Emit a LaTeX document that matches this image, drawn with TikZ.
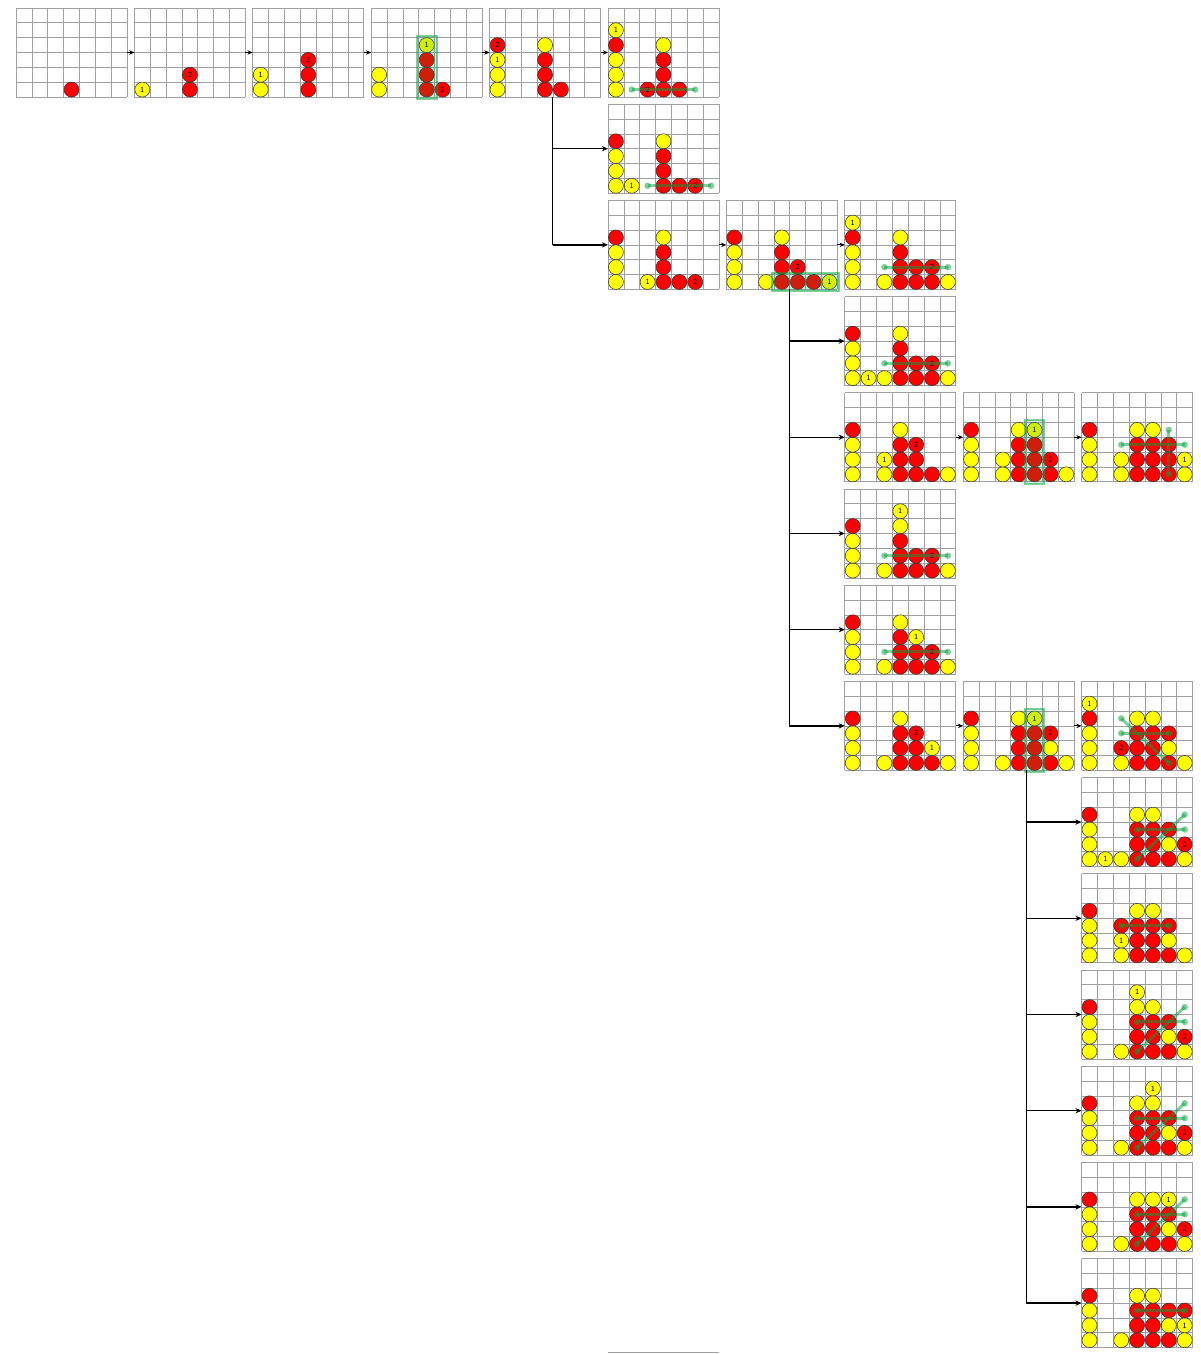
\documentclass[tikz,border=0pt]{standalone}
\usepackage{tikz}
\usetikzlibrary{arrows.meta,calc}
\definecolor{cfred}{RGB}{255,0,0}
\definecolor{cfyellow}{RGB}{255,255,0}
\definecolor{cfgreen}{RGB}{0,163,61}
\definecolor{gridgray}{RGB}{160,160,160}

\tikzset{
  board/.style={minimum width=2.22cm, minimum height=1.78cm, inner sep=0pt, outer sep=0pt, anchor=south west},
  gridline/.style={gridgray, line width=0.4pt},
  disc/.style={circle, minimum size=0.3cm, inner sep=0pt, draw=black!80, line width=0.3pt,
    font=\sffamily\fontsize{4.5}{5}\selectfont},
  R/.style={disc, fill=cfred},
  Y/.style={disc, fill=cfyellow},
  threat/.style={cfgreen, line width=0.06cm, draw opacity=0.5},
  threatdot/.style={cfgreen, fill opacity=0.5},
  hilite/.style={draw=cfgreen, line width=0.04cm, draw opacity=0.5, fill=cfgreen, fill opacity=0.18},
  movearrow/.style={line width=0.6pt, -{Stealth[length=3pt,width=2.5pt]}},
  tree/.style={line width=0.75pt},
  treearrow/.style={tree, -{Stealth[length=3.5pt,width=3pt]}}
}

% board: name, column, row, discs (c/r/colour/label), marks
\newcommand{\cfboard}[5]{%
  \node[board] (#1) at ({16+118.4*#2},{1257-96.2*#3}) {};
  \begin{scope}[shift={(#1.south west)}, x=0.317143cm, y=0.296667cm]
    \foreach \i in {0,...,7} \draw[gridline] (\i,0) -- (\i,6);
    \foreach \j in {0,...,6} \draw[gridline] (0,\j) -- (7,\j);
    \foreach \c/\r/\f/\t in {#4}
      \node[\f] (#1-\c-\r) at (\c-.5,\r-.5) {\t};
    #5
  \end{scope}}
% four in a row: from cell to cell
\newcommand{\cfthreat}[4]{%
  \draw[threat] (#1-.5,#2-.5) -- (#3-.5,#4-.5);
  \fill[threatdot] (#1-.5,#2-.5) circle[radius=0.065cm] (#3-.5,#4-.5) circle[radius=0.065cm];}
% highlighted cells
\newcommand{\cfmark}[4]{%
  \draw[hilite] ([xshift=-0.04cm,yshift=-0.04cm]#1-1,#2-1) rectangle ([xshift=0.04cm,yshift=0.04cm]#3,#4);}

\begin{document}
\begin{tikzpicture}[x=0.02cm, y=0.02cm]
  \path[use as bounding box, fill=white] (0,0) rectangle (1200,1354);

  % Main line
  \cfboard{b00}{0}{0}{4/1/R/}{}
  \cfboard{b10}{1}{0}{1/1/Y/1, 4/1/R/, 4/2/R/2}{}
  \cfboard{b20}{2}{0}{1/1/Y/, 1/2/Y/1, 4/1/R/, 4/2/R/, 4/3/R/2}{}
  \cfboard{b30}{3}{0}{1/1/Y/, 1/2/Y/, 4/1/R/, 4/2/R/, 4/3/R/, 4/4/Y/1, 5/1/R/2}{\cfmark{4}{1}{4}{4}}
  \cfboard{b40}{4}{0}{1/1/Y/, 1/2/Y/, 1/3/Y/1, 1/4/R/2, 4/1/R/, 4/2/R/, 4/3/R/, 4/4/Y/, 5/1/R/}{}
  \cfboard{b50}{5}{0}{1/1/Y/, 1/2/Y/, 1/3/Y/, 1/4/R/, 1/5/Y/1, 3/1/R/2, 4/1/R/, 4/2/R/, 4/3/R/,
    4/4/Y/, 5/1/R/}{\cfthreat{2}{1}{6}{1}}

  % Replies to b40
  \cfboard{b51}{5}{1}{1/1/Y/, 1/2/Y/, 1/3/Y/, 1/4/R/, 2/1/Y/1, 4/1/R/, 4/2/R/, 4/3/R/, 4/4/Y/,
    5/1/R/, 6/1/R/2}{\cfthreat{3}{1}{7}{1}}
  \cfboard{b52}{5}{2}{1/1/Y/, 1/2/Y/, 1/3/Y/, 1/4/R/, 3/1/Y/1, 4/1/R/, 4/2/R/, 4/3/R/, 4/4/Y/,
    5/1/R/, 6/1/R/2}{}
  \cfboard{b62}{6}{2}{1/1/Y/, 1/2/Y/, 1/3/Y/, 1/4/R/, 3/1/Y/, 4/1/R/, 4/2/R/, 4/3/R/, 4/4/Y/,
    5/1/R/, 5/2/R/2, 6/1/R/, 7/1/Y/1}{\cfmark{4}{1}{7}{1}}
  \cfboard{b72}{7}{2}{1/1/Y/, 1/2/Y/, 1/3/Y/, 1/4/R/, 1/5/Y/1, 3/1/Y/, 4/1/R/, 4/2/R/, 4/3/R/,
    4/4/Y/, 5/1/R/, 5/2/R/, 6/1/R/, 6/2/R/2, 7/1/Y/}{\cfthreat{3}{2}{7}{2}}

  % Replies to b62
  \cfboard{b73}{7}{3}{1/1/Y/, 1/2/Y/, 1/3/Y/, 1/4/R/, 2/1/Y/1, 3/1/Y/, 4/1/R/, 4/2/R/, 4/3/R/,
    4/4/Y/, 5/1/R/, 5/2/R/, 6/1/R/, 6/2/R/2, 7/1/Y/}{\cfthreat{3}{2}{7}{2}}
  \cfboard{b74}{7}{4}{1/1/Y/, 1/2/Y/, 1/3/Y/, 1/4/R/, 3/1/Y/, 3/2/Y/1, 4/1/R/, 4/2/R/, 4/3/R/,
    4/4/Y/, 5/1/R/, 5/2/R/, 5/3/R/2, 6/1/R/, 7/1/Y/}{}
  \cfboard{b84}{8}{4}{1/1/Y/, 1/2/Y/, 1/3/Y/, 1/4/R/, 3/1/Y/, 3/2/Y/, 4/1/R/, 4/2/R/, 4/3/R/,
    4/4/Y/, 5/1/R/, 5/2/R/, 5/3/R/, 5/4/Y/1, 6/1/R/, 6/2/R/2, 7/1/Y/}{\cfmark{5}{1}{5}{4}}
  \cfboard{b94}{9}{4}{1/1/Y/, 1/2/Y/, 1/3/Y/, 1/4/R/, 3/1/Y/, 3/2/Y/, 4/1/R/, 4/2/R/, 4/3/R/,
    4/4/Y/, 5/1/R/, 5/2/R/, 5/3/R/, 5/4/Y/, 6/1/R/, 6/2/R/, 6/3/R/, 7/1/Y/, 7/2/Y/1}
    {\cfthreat{3}{3}{7}{3} \cfthreat{6}{1}{6}{4}}
  \cfboard{b75}{7}{5}{1/1/Y/, 1/2/Y/, 1/3/Y/, 1/4/R/, 3/1/Y/, 4/1/R/, 4/2/R/, 4/3/R/, 4/4/Y/,
    4/5/Y/1, 5/1/R/, 5/2/R/, 6/1/R/, 6/2/R/2, 7/1/Y/}{\cfthreat{3}{2}{7}{2}}
  \cfboard{b76}{7}{6}{1/1/Y/, 1/2/Y/, 1/3/Y/, 1/4/R/, 3/1/Y/, 4/1/R/, 4/2/R/, 4/3/R/, 4/4/Y/,
    5/1/R/, 5/2/R/, 5/3/Y/1, 6/1/R/, 6/2/R/2, 7/1/Y/}{\cfthreat{3}{2}{7}{2}}
  \cfboard{b77}{7}{7}{1/1/Y/, 1/2/Y/, 1/3/Y/, 1/4/R/, 3/1/Y/, 4/1/R/, 4/2/R/, 4/3/R/, 4/4/Y/,
    5/1/R/, 5/2/R/, 5/3/R/2, 6/1/R/, 6/2/Y/1, 7/1/Y/}{}
  \cfboard{b87}{8}{7}{1/1/Y/, 1/2/Y/, 1/3/Y/, 1/4/R/, 3/1/Y/, 4/1/R/, 4/2/R/, 4/3/R/, 4/4/Y/,
    5/1/R/, 5/2/R/, 5/3/R/, 5/4/Y/1, 6/1/R/, 6/2/Y/, 6/3/R/2, 7/1/Y/}{\cfmark{5}{1}{5}{4}}
  \cfboard{b97}{9}{7}{1/1/Y/, 1/2/Y/, 1/3/Y/, 1/4/R/, 1/5/Y/1, 3/1/Y/, 3/2/R/2, 4/1/R/, 4/2/R/,
    4/3/R/, 4/4/Y/, 5/1/R/, 5/2/R/, 5/3/R/, 5/4/Y/, 6/1/R/, 6/2/Y/, 6/3/R/, 7/1/Y/}
    {\cfthreat{3}{3}{6}{3} \cfthreat{3}{4}{6}{1}}

  % Replies to b87
  \cfboard{b98}{9}{8}{1/1/Y/, 1/2/Y/, 1/3/Y/, 1/4/R/, 2/1/Y/1, 3/1/Y/, 4/1/R/, 4/2/R/, 4/3/R/,
    4/4/Y/, 5/1/R/, 5/2/R/, 5/3/R/, 5/4/Y/, 6/1/R/, 6/2/Y/, 6/3/R/, 7/1/Y/, 7/2/R/2}
    {\cfthreat{4}{3}{7}{3} \cfthreat{4}{1}{7}{4}}
  \cfboard{b99}{9}{9}{1/1/Y/, 1/2/Y/, 1/3/Y/, 1/4/R/, 3/1/Y/, 3/2/Y/1, 3/3/R/, 4/1/R/, 4/2/R/,
    4/3/R/, 4/4/Y/, 5/1/R/, 5/2/R/, 5/3/R/, 5/4/Y/, 6/1/R/, 6/2/Y/, 6/3/R/, 7/1/Y/}
    {\cfthreat{3}{3}{6}{3}}
  \cfboard{b910}{9}{10}{1/1/Y/, 1/2/Y/, 1/3/Y/, 1/4/R/, 3/1/Y/, 4/1/R/, 4/2/R/, 4/3/R/, 4/4/Y/,
    4/5/Y/1, 5/1/R/, 5/2/R/, 5/3/R/, 5/4/Y/, 6/1/R/, 6/2/Y/, 6/3/R/, 7/1/Y/, 7/2/R/2}
    {\cfthreat{4}{3}{7}{3} \cfthreat{4}{1}{7}{4}}
  \cfboard{b911}{9}{11}{1/1/Y/, 1/2/Y/, 1/3/Y/, 1/4/R/, 3/1/Y/, 4/1/R/, 4/2/R/, 4/3/R/, 4/4/Y/,
    5/1/R/, 5/2/R/, 5/3/R/, 5/4/Y/, 5/5/Y/1, 6/1/R/, 6/2/Y/, 6/3/R/, 7/1/Y/, 7/2/R/2}
    {\cfthreat{4}{3}{7}{3} \cfthreat{4}{1}{7}{4}}
  \cfboard{b912}{9}{12}{1/1/Y/, 1/2/Y/, 1/3/Y/, 1/4/R/, 3/1/Y/, 4/1/R/, 4/2/R/, 4/3/R/, 4/4/Y/,
    5/1/R/, 5/2/R/, 5/3/R/, 5/4/Y/, 6/1/R/, 6/2/Y/, 6/3/R/, 6/4/Y/1, 7/1/Y/, 7/2/R/2}
    {\cfthreat{4}{3}{7}{3} \cfthreat{4}{1}{7}{4}}
  \cfboard{b913}{9}{13}{1/1/Y/, 1/2/Y/, 1/3/Y/, 1/4/R/, 3/1/Y/, 4/1/R/, 4/2/R/, 4/3/R/, 4/4/Y/,
    5/1/R/, 5/2/R/, 5/3/R/, 5/4/Y/, 6/1/R/, 6/2/Y/, 6/3/R/, 7/1/Y/, 7/2/Y/1, 7/3/R/}
    {\cfthreat{4}{3}{7}{3}}

  % Moves
  \draw[movearrow] (b00) -- (b10);
  \draw[movearrow] (b10) -- (b20);
  \draw[movearrow] (b20) -- (b30);
  \draw[movearrow] (b30) -- (b40);
  \draw[movearrow] (b40) -- (b50);
  \draw[movearrow] (b52) -- (b62);
  \draw[movearrow] (b62) -- (b72);
  \draw[movearrow] (b74) -- (b84);
  \draw[movearrow] (b84) -- (b94);
  \draw[movearrow] (b77) -- (b87);
  \draw[movearrow] (b87) -- (b97);

  % Branches
  \coordinate (t40) at ([xshift=0.15cm]b40.south);
  \draw[tree] (t40) -- (t40 |- b52.west);
  \foreach \b in {b51, b52}
    \draw[treearrow] (t40 |- \b.west) -- (\b.west);
  \coordinate (t62) at ([xshift=0.15cm]b62.south);
  \draw[tree] (t62) -- (t62 |- b77.west);
  \foreach \b in {b73, b74, b75, b76, b77}
    \draw[treearrow] (t62 |- \b.west) -- (\b.west);
  \coordinate (t87) at ([xshift=0.15cm]b87.south);
  \draw[tree] (t87) -- (t87 |- b913.west);
  \foreach \b in {b98, b99, b910, b911, b912, b913}
    \draw[treearrow] (t87 |- \b.west) -- (\b.west);

  \draw[gridline] (608,1.5) -- (719,1.5);
\end{tikzpicture}
\end{document}
